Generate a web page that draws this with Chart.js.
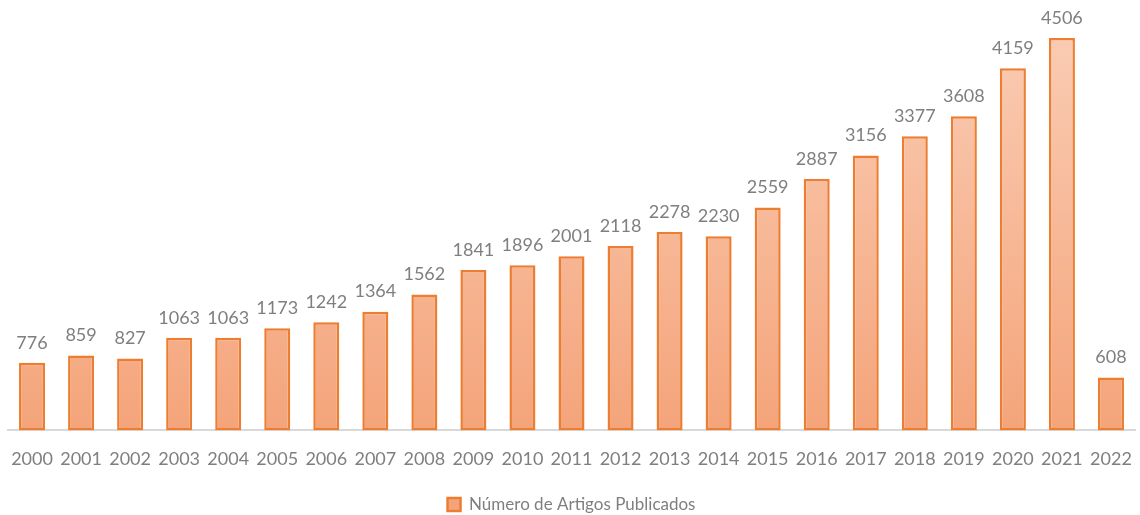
<!DOCTYPE html>
<html>
<head>
<meta charset="utf-8">
<script src="https://cdn.jsdelivr.net/npm/chart.js@4/dist/chart.umd.min.js"></script>
<style>
  html, body { margin: 0; padding: 0; background: #fff; }
  #wrap { width: 1140px; height: 515px; }
</style>
</head>
<body>
<div id="wrap"><canvas id="grafico"></canvas></div>
<script>
var anos = ['2000','2001','2002','2003','2004','2005','2006','2007','2008','2009','2010','2011',
            '2012','2013','2014','2015','2016','2017','2018','2019','2020','2021','2022'];
var artigos = [776, 859, 827, 1063, 1063, 1173, 1242, 1364, 1562, 1841, 1896, 2001,
               2118, 2278, 2230, 2559, 2887, 3156, 3377, 3608, 4159, 4506, 608];
var rotulo = 'Número de Artigos Publicados';

var fonte = "Lato, 'Open Sans', sans-serif";

// rotulos de valor acima das barras
var rotulosBarras = {
    id: 'rotulosBarras',
    afterDatasetsDraw: function(chart){
        var ctx = chart.ctx;
        var meta = chart.getDatasetMeta(0);
        ctx.save();
        ctx.font = '18px ' + fonte;
        ctx.fillStyle = '#7f7f7f';
        ctx.textAlign = 'center';
        ctx.textBaseline = 'bottom';
        meta.data.forEach(function(bar, i){
            ctx.fillText(artigos[i], bar.x, bar.y - 11);
        });
        ctx.restore();
    }
};

var ctx = document.getElementById('grafico').getContext('2d');

function gradiente(context){
    var area = context.chart.chartArea;
    if(!area){ return '#f6b28e'; }
    var g = context.chart.ctx.createLinearGradient(0, area.top, 0, area.bottom);
    g.addColorStop(0, '#facfb8');
    g.addColorStop(1, '#f4a47a');
    return g;
}

var grafico = new Chart(ctx, {
    type: 'bar',
    data: {
        labels: anos,
        datasets: [{
            label: rotulo,
            data: artigos,
            backgroundColor: gradiente,
            borderColor: '#ed7d31',
            borderWidth: 2.5,
            borderSkipped: false,
            categoryPercentage: 1,
            barPercentage: 0.53
        }]
    },
    options: {
        responsive: true,
        maintainAspectRatio: false,
        animation: false,
        layout: { padding: { left: 7.5, right: 4.5, top: 0, bottom: -8 } },
        scales: {
            x: {
                grid: { display: false, drawTicks: false },
                border: { color: '#d9d9d9', width: 2 },
                ticks: { color: '#7f7f7f', font: { family: fonte, size: 18 }, padding: 18, maxRotation: 0, autoSkip: false },
                afterFit: function(scale){
                    scale.paddingLeft = 0;
                    scale.paddingRight = 0;
                }
            },
            y: {
                display: false,
                min: 0,
                max: 4943
            }
        },
        plugins: {
            legend: {
                position: 'bottom',
                labels: {
                    color: '#7f7f7f',
                    font: { family: fonte, size: 17 },
                    boxWidth: 13,
                    boxHeight: 13,
                    padding: 8
                }
            },
            tooltip: { enabled: false }
        }
    },
    plugins: [rotulosBarras]
});
</script>
</body>
</html>
